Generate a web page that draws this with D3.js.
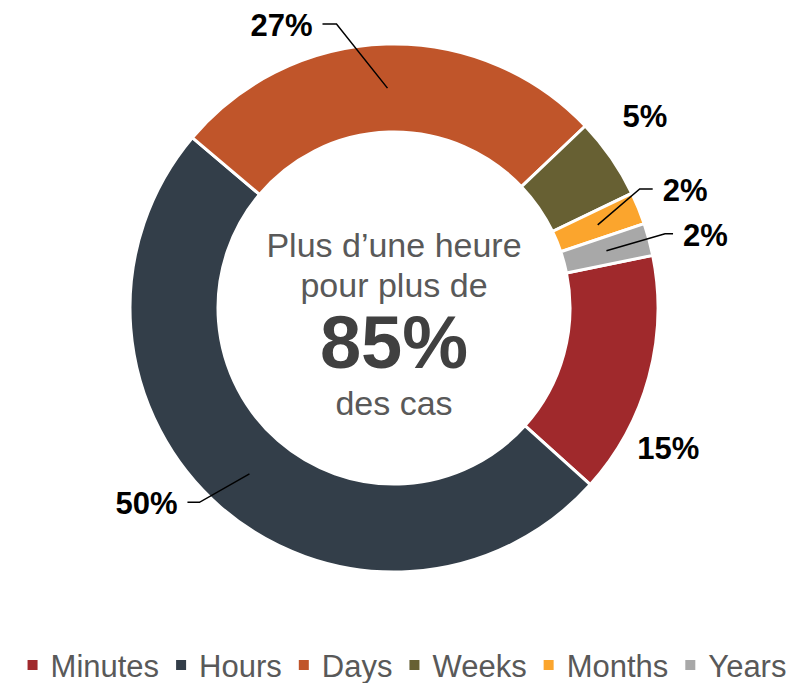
<!DOCTYPE html>
<html>
<head>
<meta charset="utf-8">
<script src="https://cdn.jsdelivr.net/npm/d3@7"></script>
<style>
  html, body { margin: 0; padding: 0; background: #fff; }
  svg { display: block; font-family: "Liberation Sans", Arial, sans-serif; }
</style>
</head>
<body>
<svg id="chart" width="794" height="683"></svg>
<script>
// Share of cases by duration
const categories = ["Minutes", "Hours", "Days", "Weeks", "Months", "Years"];
const values = [15, 50, 27, 5, 2, 2];
const colors = ["#A0292C", "#333E49", "#C0552A", "#676033", "#FBA52D", "#A8A8A8"];
const centerLines = ["Plus d’une heure", "pour plus de", "85%", "des cas"];

// Label placement relative to each slice centroid.
// Labels with a leader: elbow offset from the centroid, then a short horizontal tail.
// Labels without a leader: plain offset from the centroid.
const labelLayout = [
  { dx: 62, dy: 93, anchor: "middle" },                        // Minutes
  { anchor: "end", elbow: [-50, 28.5], tail: -12 },            // Hours
  { anchor: "end", elbow: [-51, -64], tail: -14 },             // Days
  { dx: 70, dy: -56, anchor: "middle" },                       // Weeks
  { anchor: "start", elbow: [42, -36], tail: 13 },             // Months
  { anchor: "start", elbow: [58.6, -17], tail: 8 }             // Years
];

const svg = d3.select("#chart");
const cx = 394, cy = 308, outerR = 264, innerR = 176;
const g = svg.append("g").attr("transform", `translate(${cx},${cy})`);

const startAngle = 78.5 * Math.PI / 180;
const pie = d3.pie().sort(null).value(d => d)
  .startAngle(startAngle).endAngle(startAngle + 2 * Math.PI);
const arcs = pie(values);
const arc = d3.arc().innerRadius(innerR).outerRadius(outerR);

g.selectAll("path.slice").data(arcs).join("path")
  .attr("class", "slice")
  .attr("d", arc)
  .attr("fill", (d, i) => colors[i])
  .attr("stroke", "#fff")
  .attr("stroke-width", 3)
  .attr("stroke-linejoin", "miter");

// Value labels with leader lines
arcs.forEach((d, i) => {
  const L = labelLayout[i];
  const [px, py] = arc.centroid(d);
  let tx, ty;
  if (L.elbow) {
    const ex = px + L.elbow[0], ey = py + L.elbow[1];
    const endX = ex + L.tail;
    g.append("polyline")
      .attr("points", `${px},${py} ${ex},${ey} ${endX},${ey}`)
      .attr("fill", "none").attr("stroke", "#000").attr("stroke-width", 1.5);
    tx = endX + (L.tail < 0 ? -10 : 10);
    ty = ey + 12;
  } else {
    tx = px + L.dx; ty = py + L.dy;
  }
  g.append("text")
    .attr("x", tx).attr("y", ty)
    .attr("text-anchor", L.anchor)
    .attr("font-size", 31).attr("font-weight", "bold").attr("fill", "#000")
    .text(values[i] + "%");
});

// Centre message
const centre = [
  { t: centerLines[0], y: 257 - cy, size: 34, weight: "normal", fill: "#595959" },
  { t: centerLines[1], y: 297 - cy, size: 34, weight: "normal", fill: "#595959" },
  { t: centerLines[2], y: 368 - cy, size: 74, weight: "bold", fill: "#404040" },
  { t: centerLines[3], y: 415 - cy, size: 34, weight: "normal", fill: "#595959" }
];
g.selectAll("text.centre").data(centre).join("text")
  .attr("class", "centre")
  .attr("x", 0).attr("y", d => d.y)
  .attr("text-anchor", "middle")
  .attr("font-size", d => d.size).attr("font-weight", d => d.weight)
  .attr("fill", d => d.fill)
  .text(d => d.t);

// Legend
const legend = svg.append("g");
const items = legend.selectAll("g.item").data(categories).join("g").attr("class", "item");
items.append("rect").attr("width", 10).attr("height", 10).attr("y", 660)
  .attr("fill", (d, i) => colors[i]);
items.append("text").attr("y", 677).attr("font-size", 31).attr("fill", "#595959")
  .text(d => d);
let x = 0;
const sq = 10, gapIn = 13, gapOut = 17;
items.each(function () {
  const it = d3.select(this);
  const w = it.select("text").node().getComputedTextLength();
  it.select("rect").attr("x", x);
  it.select("text").attr("x", x + sq + gapIn);
  x += sq + gapIn + w + gapOut;
});
const total = x - gapOut;
legend.attr("transform", `translate(${407 - total / 2},0)`);
</script>
</body>
</html>
